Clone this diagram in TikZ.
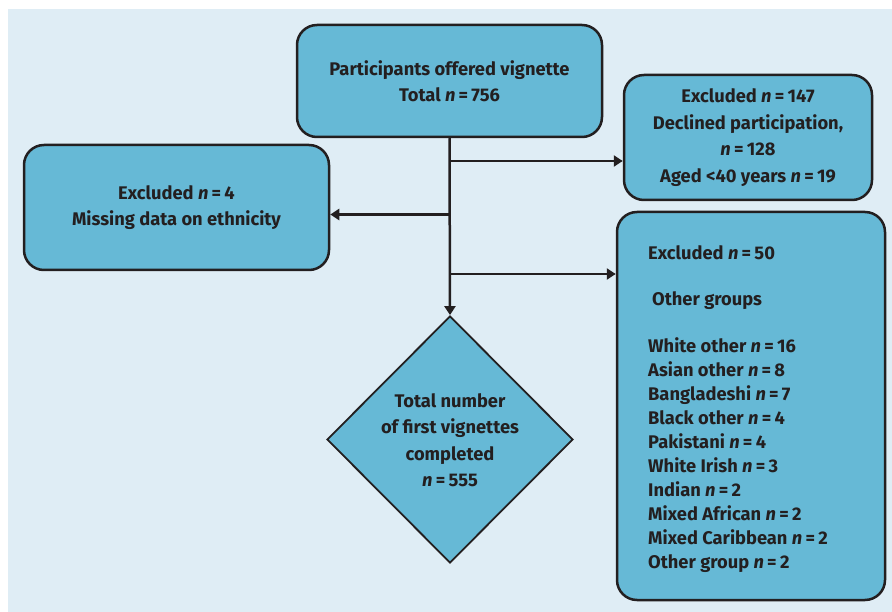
\documentclass[tikz,border=0pt]{standalone}
\usepackage{fontspec}
\setmainfont{Fira Sans}
\usetikzlibrary{shapes.geometric,arrows.meta}
\definecolor{bgblue}{HTML}{DFEDF5}
\definecolor{boxblue}{HTML}{66B9D6}
\definecolor{ink}{HTML}{231F20}
\newcommand{\nn}{\textit{n}\hspace{0.18em}=\hspace{0.18em}}
\begin{document}
\begin{tikzpicture}[x=1pt,y=-1pt,
  box/.style={draw=ink,line width=2.5pt,fill=boxblue,rounded corners=20pt,inner sep=0pt},
  dia/.style={draw=ink,line width=1.8pt,fill=boxblue,diamond,inner sep=0pt},
  txt/.style={text=ink,font=\fontsize{18.3}{26.5}\selectfont\bfseries,align=center,inner sep=0pt},
  conn/.style={draw=ink,line width=2.5pt,-{Triangle[length=9pt,width=11pt]}}]
\useasboundingbox (0,0) rectangle (892,612);
\fill[white] (0,0) rectangle (892,612);
\fill[bgblue] (8,9) rectangle (892,612);
% boxes
\node[box,minimum width=305pt,minimum height=112pt] (top) at (449.5,81) {};
\node[txt] (toptxt) at (top.center) {Participants offered vignette\\Total \nn 756};
\node[box,minimum width=305pt,minimum height=125pt] (left) at (176.5,207.5) {};
\node[txt] (lefttxt) at (left.center) {Excluded \nn 4\\Missing data on ethnicity};
\node[box,minimum width=248pt,minimum height=125pt] (r1) at (748,137.5) {};
\node[txt] (r1txt) at (r1.center) {Excluded \nn 147\\Declined participation,\\\nn 128\\Aged <40 years \nn 19};
\node[box,minimum width=268pt,minimum height=388pt] (r2) at (751,406) {};
\node[txt,align=left,anchor=north west,font=\fontsize{18.3}{24}\selectfont\bfseries] (r2txt) at (648,245)
  {Excluded \nn 50\\[22pt]
   \hspace*{4pt}Other groups\\[23pt]
   White other \nn 16\\
   Asian other \nn 8\\
   Bangladeshi \nn 7\\
   Black other \nn 4\\
   Pakistani \nn 4\\
   White Irish \nn 3\\
   Indian \nn 2\\
   Mixed African \nn 2\\
   Mixed Caribbean \nn 2\\
   Other group \nn 2};
\node[dia,minimum width=246pt,minimum height=247pt] (dm) at (450,439.5) {};
\node[txt] (dmtxt) at (450,440) {Total number\\of first vignettes\\completed\\\nn 555};
% connectors
\coordinate (b1) at (top.south |- 0,161);
\coordinate (b2) at (top.south |- 0,214.5);
\coordinate (b3) at (top.south |- 0,274);
\draw[conn] (top.south) -- (dm.north);
\draw[conn] (b1) -- (b1 -| r1.west);
\draw[conn] (b2) -- (b2 -| left.east);
\draw[conn] (b3) -- (b3 -| r2.west);
\end{tikzpicture}
\end{document}
